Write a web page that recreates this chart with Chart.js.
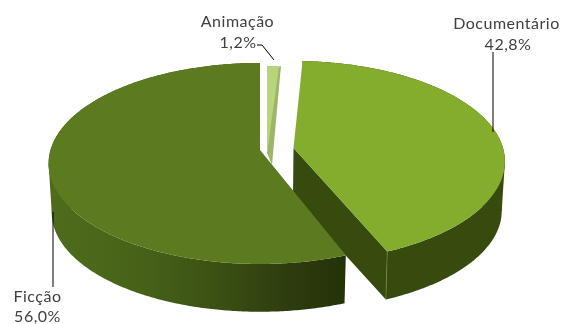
<!DOCTYPE html>
<html><head><meta charset="utf-8">
<style>html,body{margin:0;padding:0;background:#fff}canvas{display:block}</style>
<script src="https://cdn.jsdelivr.net/npm/chart.js@4"></script>
</head><body><canvas id="c" width="561" height="324"></canvas>
<script>
const categories = ['Animação', 'Documentário', 'Ficção'];
const shares = [1.2, 42.8, 56.0];
const topColors = ['#b7d67c', '#84ad2e', '#5c7a1f'];
const sideColors = ['#9db568', '#374b0f', '#4a661a'];

// projection of the tilted disc (style and layout, not data)
const view = { rx: 209.5, ry: 98.7, persp: 0.134, depth: 49.5, lower: 0.985 };
const apexes = [{x:267,y:153},{x:293.5,y:148},{x:260,y:150}];
const deg = Math.PI / 180;
const labelBoxes = [
  {x:237.5,y:22,x2:238,y2:43},
  {x:506.5,y:24,x2:508,y2:45},
  {x:37.5,y:297,x2:37.5,y2:317}
];
const leaders = [
  [[257,45],[262,45],[274,60]],
  [[493,52],[493,132]],
  [[53,212],[53,287]]
];

function project(apex, theta, r, low) {
  const X = Math.sin(theta) * r, Y = Math.cos(theta) * r;
  const s = 1 / (1 + view.persp * Y), k = low ? view.lower : 1;
  return { x: apex.x + X * view.rx * s * k,
           y: apex.y - Y * view.ry * s * k + (low ? view.depth : 0) };
}
function poly(ctx, pts, fill) {
  ctx.beginPath();
  pts.forEach((p, i) => i ? ctx.lineTo(p.x, p.y) : ctx.moveTo(p.x, p.y));
  ctx.closePath();
  ctx.fillStyle = fill; ctx.fill();
}
function arcPts(apex, a, b, low) {
  const out = [], n = Math.max(2, Math.ceil((b - a) / 0.01));
  for (let i = 0; i <= n; i++) out.push(project(apex, a + (b - a) * i / n, 1, low));
  return out;
}
// joins the upper and lower rims along their outermost points
function hull(ctx, top, low, sign, fill) {
  const far = pts => pts.reduce((m, p) => (p.x * sign > m.x * sign ? p : m));
  const t = far(top), l = far(low);
  poly(ctx, [t, l, {x: l.x - sign * 20, y: l.y}, {x: t.x - sign * 20, y: t.y}], fill);
}
const tilted = {
  id: 'tilted',
  beforeDatasetsDraw(chart) {
    const ctx = chart.ctx, arcs = chart.getDatasetMeta(0).data;
    const span = arcs.map(e => [e.startAngle + Math.PI / 2, e.endAngle + Math.PI / 2]);
    ctx.save();

    // Animação (behind)
    let [a, b] = span[0], A = apexes[0];
    poly(ctx, [A, ...arcPts(A, a, b, false)], topColors[0]);
    const E = project(A, b, 1, false);
    poly(ctx, [{x:E.x-2,y:E.y+1}, E, {x:A.x+5,y:A.y+12}, A], sideColors[0]);

    // Documentário
    a = span[1][0] - 1.5 * deg; b = span[1][1] - 1.5 * deg; A = apexes[1];
    const topD = arcPts(A, a, b, false), lowD = arcPts(A, a, b, true);
    hull(ctx, topD, lowD, 1, sideColors[1]);
    poly(ctx, [...topD, ...lowD.slice().reverse()], sideColors[1]);
    const tipT = project(A, b, 1, false), tipL = project(A, b, 1, true);
    poly(ctx, [A, tipT, tipL, {x:A.x-0.5,y:A.y+view.depth}], sideColors[1]);
    poly(ctx, [A, ...topD], topColors[1]);
    ctx.beginPath(); ctx.moveTo(tipT.x, tipT.y); ctx.lineTo(tipL.x, tipL.y);
    ctx.strokeStyle = '#76894a'; ctx.lineWidth = 0.6; ctx.stroke();

    // Ficção (front)
    a = span[2][0] + 0.6 * deg; b = span[2][1]; A = apexes[2];
    const topF = arcPts(A, a, b, false), lowF = arcPts(A, a, b, true);
    const g = ctx.createLinearGradient(47, 0, 345, 0);
    g.addColorStop(0, '#4f6c1c'); g.addColorStop(0.3, '#486318');
    g.addColorStop(0.55, '#3c5214'); g.addColorStop(0.8, '#2e3d0e'); g.addColorStop(1, '#243208');
    hull(ctx, topF, lowF, -1, g);
    poly(ctx, [...topF, ...lowF.slice().reverse()], g);
    poly(ctx, [A, ...topF], topColors[2]);

    // leader lines and labels
    ctx.strokeStyle = '#000'; ctx.lineWidth = 1;
    leaders.forEach(l => {
      ctx.beginPath();
      l.forEach((p, i) => i ? ctx.lineTo(p[0], p[1]) : ctx.moveTo(p[0], p[1]));
      ctx.stroke();
    });
    ctx.fillStyle = '#404040'; ctx.textAlign = 'center'; ctx.textBaseline = 'middle';
    ctx.font = '16px Lato'; ctx.letterSpacing = '0.5px';
    categories.forEach((c, i) => {
      const p = labelBoxes[i];
      ctx.fillText(c, p.x, p.y);
      ctx.fillText(shares[i].toFixed(1).replace('.', ',') + '%', p.x2, p.y2);
    });
    ctx.restore();
    return false;
  }
};
new Chart(document.getElementById('c'), {
  type: 'pie',
  data: { labels: categories, datasets: [{ data: shares, backgroundColor: topColors }] },
  options: { responsive: false, animation: false, rotation: 0,
    plugins: { legend: { display: false }, tooltip: { enabled: false } } },
  plugins: [tilted]
});
</script></body></html>
